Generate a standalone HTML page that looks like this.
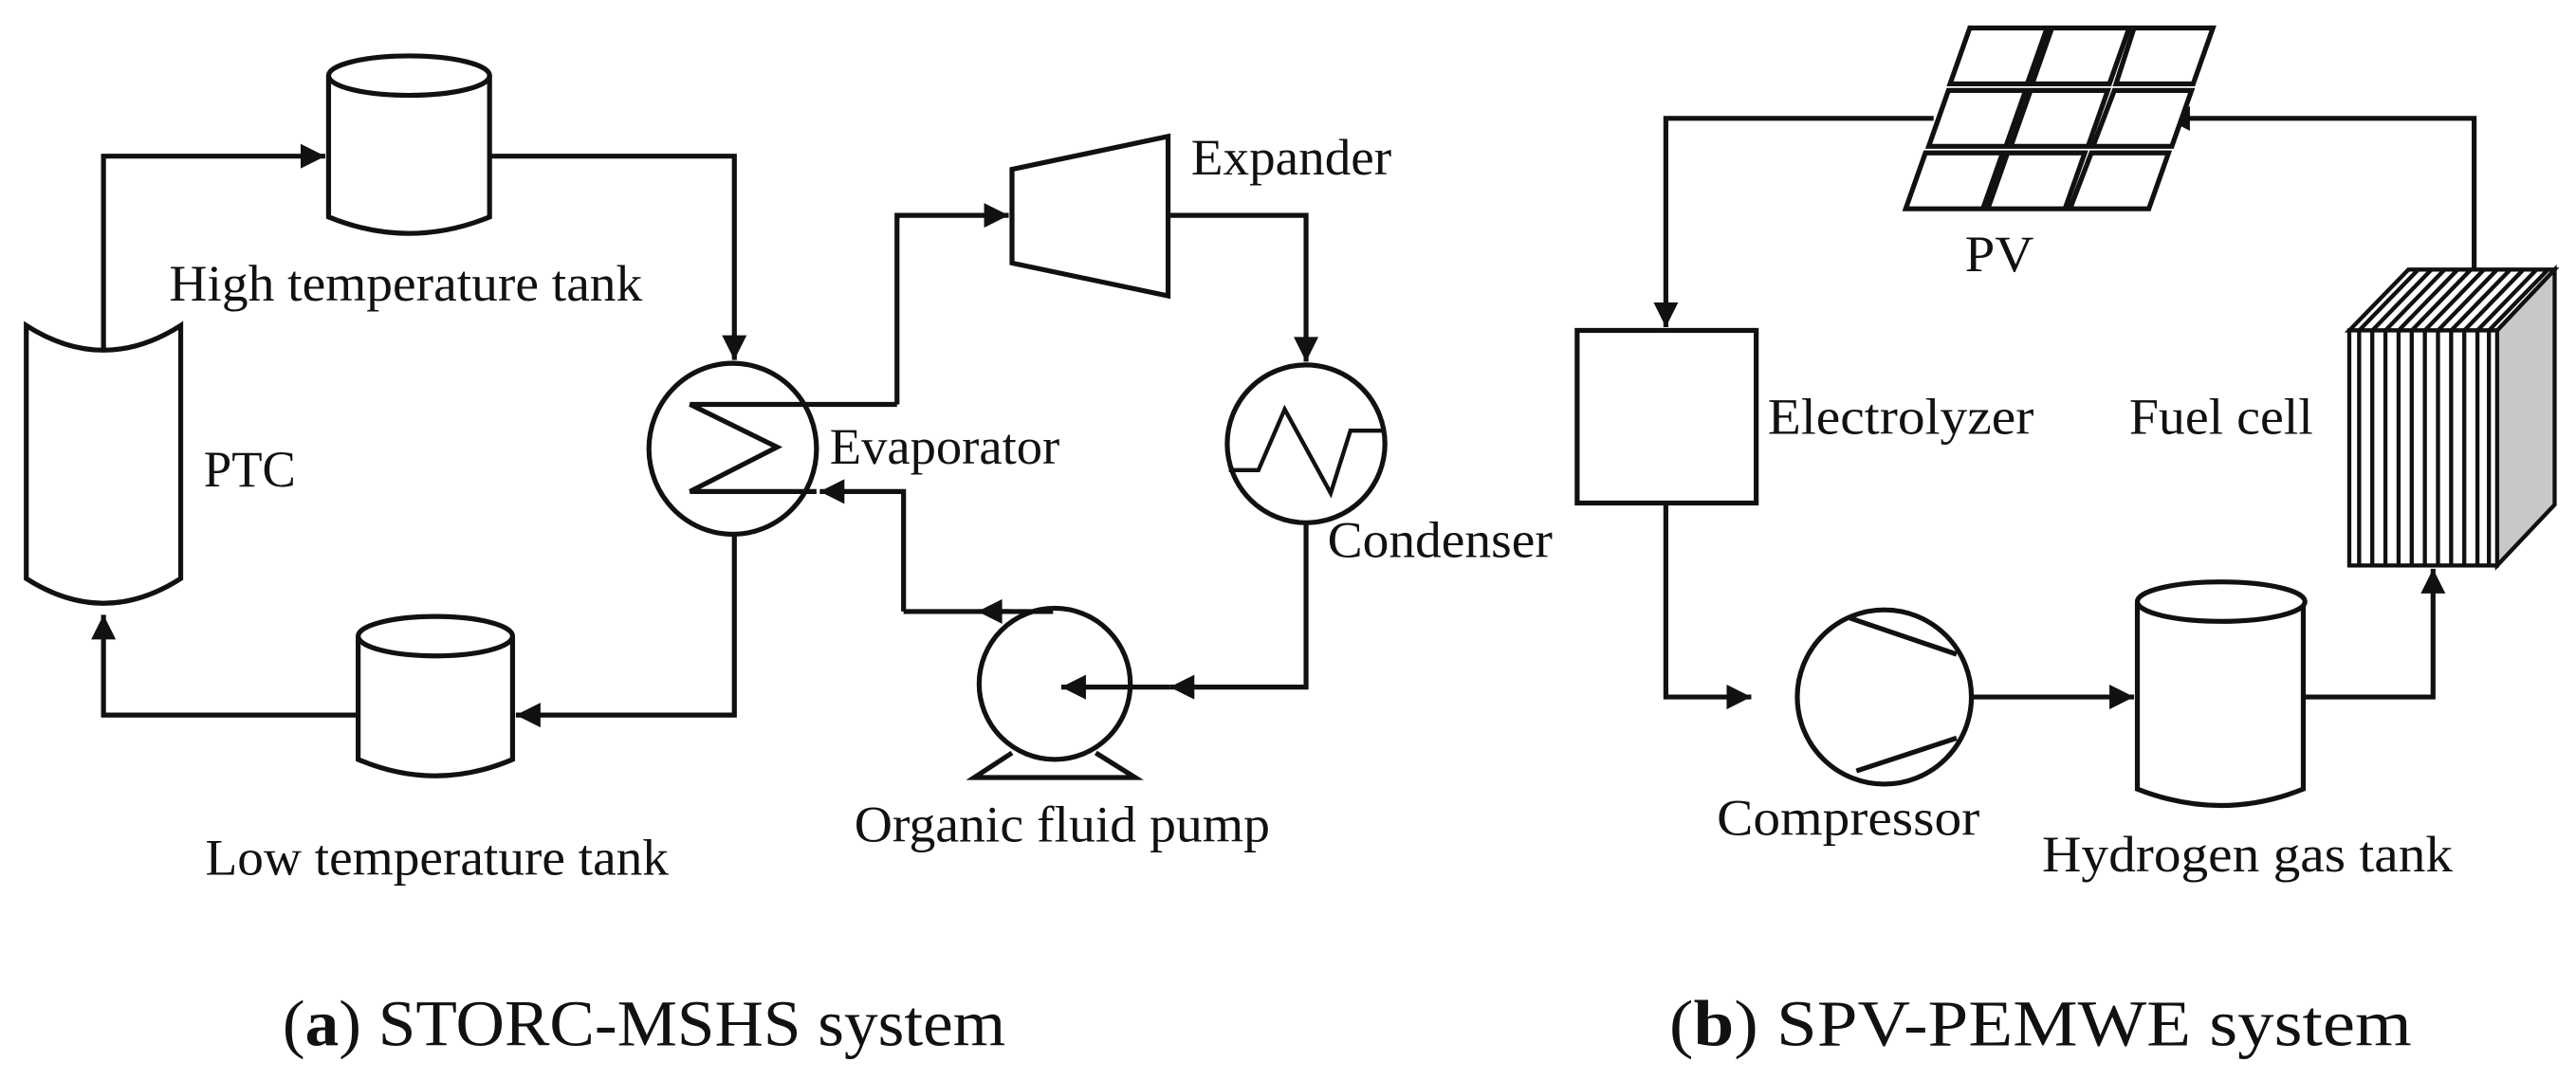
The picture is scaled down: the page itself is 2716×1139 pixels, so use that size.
<!DOCTYPE html>
<html><head><meta charset="utf-8"><style>
html,body{margin:0;padding:0;background:#fff;}
svg{display:block;}
text{font-family:"Liberation Serif",serif;fill:#111;}
</style></head><body>
<svg width="2716" height="1139" viewBox="0 0 1568 657" preserveAspectRatio="none" xmlns="http://www.w3.org/2000/svg">
<defs>
<marker id="a" viewBox="0 0 10 10" refX="10" refY="5" markerWidth="6" markerHeight="5" orient="auto" markerUnits="strokeWidth">
<path d="M0,0 L10,5 L0,10 z" fill="#111"/></marker>
</defs>
<g fill="none" stroke="#111" stroke-width="3" stroke-linejoin="miter">
<path d="M200,46 L200,132 Q249,152 298,132 L298,46" fill="#fff"/>
<ellipse cx="249" cy="46" rx="49" ry="12" fill="#fff"/>
<path d="M16,198 Q63,228 110,198 L110,352 Q63,382 16,352 Z" fill="#fff"/>
<path d="M218,387 L218,462 Q265,482 312,462 L312,387" fill="#fff"/>
<ellipse cx="265" cy="387" rx="47" ry="12" fill="#fff"/>
<path d="M63,213 L63,95 L198,95" marker-end="url(#a)"/>
<path d="M298,95 L447,95 L447,219" marker-end="url(#a)"/>
<path d="M447,326 L447,435 L314,435" marker-end="url(#a)"/>
<path d="M218,435 L63,435 L63,374" marker-end="url(#a)"/>
<ellipse cx="446" cy="273" rx="51" ry="52"/>
<path d="M546,246 L420,246 L473,272 L420,299 L497,299"/>
<path d="M550,372 L550,299 L499,299" marker-end="url(#a)"/>
<path d="M641,372 L550,372"/>
<path d="M615,372 L595,372" marker-end="url(#a)"/>
<path d="M546,246 L546,131 L614,131" marker-end="url(#a)"/>
<path d="M616,103 L711,83 L711,180 L616,160 Z"/>
<path d="M711,131 L795,131 L795,220" marker-end="url(#a)"/>
<circle cx="795" cy="270" r="48"/>
<path d="M748,286 L766,286 L782,249 L810,300 L822,262 L842,262" stroke-width="2.5"/>
<path d="M795,318 L795,418 L712,418" marker-end="url(#a)"/>
<ellipse cx="642" cy="416" rx="46" ry="46"/>
<path d="M712,418 L688,418"/>
<path d="M688,418 L646,418" marker-end="url(#a)"/>
<path d="M616,458 L593,473 L691,473 L667,458"/>
<path d="M1177,72 L1014,72 L1014,199" marker-end="url(#a)"/>
<rect x="960" y="201" width="109" height="105" fill="#fff"/>
<path d="M1014,306 L1014,424 L1066,424" marker-end="url(#a)"/>
<circle cx="1147" cy="424" r="53"/>
<path d="M1126,376 L1191,398" />
<path d="M1130,469 L1191,449" />
<path d="M1200,424 L1299,424" marker-end="url(#a)"/>
<path d="M1301,366 L1301,480 Q1352,500 1402,480 L1402,366" fill="#fff"/>
<ellipse cx="1352" cy="366" rx="51" ry="12" fill="#fff"/>
<path d="M1402,424 L1481,424 L1481,346" marker-end="url(#a)"/>
<path d="M1506,164 L1506,72 L1318,72" marker-end="url(#a)"/>
</g>
<g fill="#fff" stroke="#111" stroke-width="3">
<path d="M1199,17 L1246,17 L1234,51 L1187,51 Z"/>
<path d="M1249,17 L1296,17 L1284,51 L1237,51 Z"/>
<path d="M1299,17 L1347,17 L1335,51 L1288,51 Z"/>
<path d="M1186,55 L1233,55 L1221,89 L1174,89 Z"/>
<path d="M1236,55 L1283,55 L1271,89 L1224,89 Z"/>
<path d="M1287,55 L1334,55 L1322,89 L1274,89 Z"/>
<path d="M1172,93 L1219,93 L1207,127 L1160,127 Z"/>
<path d="M1222,93 L1269,93 L1257,127 L1210,127 Z"/>
<path d="M1273,93 L1320,93 L1308,127 L1260,127 Z"/>
</g>
<g stroke="#111" stroke-width="2.5">
<path d="M1520,201 L1555,164 L1555,307 L1520,344 Z" fill="#c8c8c8"/>
<path d="M1430,201 L1466,164 L1555,164 L1520,201 Z" fill="#fff"/>
<rect x="1430" y="201" width="90" height="143" fill="#fff"/>
</g>
<g stroke="#111" stroke-width="2.5">
<path d="M1436,201 v143 M1444,201 v143 M1452,201 v143 M1460,201 v143 M1468,201 v143 M1476,201 v143 M1484,201 v143 M1492,201 v143 M1500,201 v143 M1508,201 v143 M1515,201 v143"/>
<path d="M1436,201 l36,-37 M1444,201 l36,-37 M1452,201 l36,-37 M1460,201 l36,-37 M1468,201 l36,-37 M1476,201 l36,-37 M1484,201 l36,-37 M1492,201 l36,-37 M1500,201 l36,-37 M1508,201 l36,-37 M1515,201 l36,-37"/>
</g>
<g font-size="31">
<text x="103" y="183" textLength="288" lengthAdjust="spacingAndGlyphs">High temperature tank</text>
<text x="124" y="296" textLength="56" lengthAdjust="spacingAndGlyphs">PTC</text>
<text x="125" y="532" textLength="282" lengthAdjust="spacingAndGlyphs">Low temperature tank</text>
<text x="505" y="282" textLength="140" lengthAdjust="spacingAndGlyphs">Evaporator</text>
<text x="725" y="106" textLength="122" lengthAdjust="spacingAndGlyphs">Expander</text>
<text x="808" y="339" textLength="137" lengthAdjust="spacingAndGlyphs">Condenser</text>
<text x="520" y="512" textLength="253" lengthAdjust="spacingAndGlyphs">Organic fluid pump</text>
<text x="1196" y="165" textLength="42" lengthAdjust="spacingAndGlyphs">PV</text>
<text x="1076" y="264" textLength="162" lengthAdjust="spacingAndGlyphs">Electrolyzer</text>
<text x="1296" y="264" textLength="112" lengthAdjust="spacingAndGlyphs">Fuel cell</text>
<text x="1045" y="508" textLength="160" lengthAdjust="spacingAndGlyphs">Compressor</text>
<text x="1243" y="530" textLength="250" lengthAdjust="spacingAndGlyphs">Hydrogen gas tank</text>
</g>
<g font-size="40">
<text x="172" y="636" textLength="440" lengthAdjust="spacingAndGlyphs">(<tspan font-weight="bold">a</tspan>) STORC-MSHS system</text>
<text x="1016" y="636" textLength="452" lengthAdjust="spacingAndGlyphs">(<tspan font-weight="bold">b</tspan>) SPV-PEMWE system</text>
</g>
</svg>
</body></html>
